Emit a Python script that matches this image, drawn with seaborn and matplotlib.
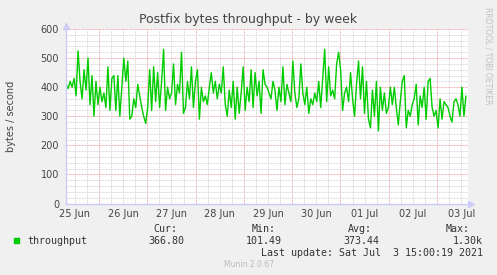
import numpy as np
import pandas as pd
import matplotlib
matplotlib.use("Agg")
import matplotlib.pyplot as plt
import matplotlib.dates as mdates
from matplotlib.ticker import MultipleLocator, FuncFormatter
from matplotlib.patches import Rectangle
import seaborn as sns

# ---------------- data ----------------
title = "Postfix bytes throughput - by week"
y_label = "bytes / second"
series_name = "throughput"
start_time = "2021-06-25 07:40"
end_time = "2021-07-03 14:20"
view_start = "2021-06-25 07:36"
view_end = "2021-07-03 15:22"

throughput = [
    410, 395, 420, 400, 430, 370, 525, 420, 360, 460, 390, 500, 340, 440, 300, 420,
    340, 400, 350, 380, 330, 470, 320, 430, 440, 320, 440, 300, 400, 500, 420, 490,
    290, 300, 360, 330, 410, 370, 330, 300, 275,
    330, 460, 320, 470, 350, 450, 330, 420, 530, 320, 400, 360, 380, 480, 340, 410,
    380, 520, 310, 330, 420, 360, 470, 330, 420, 460, 290, 400, 350, 370, 340, 400,
    450, 380, 420, 360, 410, 380, 470, 340, 300,
    390, 330, 420, 290, 400, 310, 380, 470, 320, 400, 350, 460, 330, 450, 370, 420,
    310, 460, 410, 400, 380, 360, 420, 390, 320, 400, 350, 470, 340, 410, 380, 350,
    490, 380, 330, 360, 480, 380, 340, 400, 310,
    360, 340, 380, 350, 420, 330, 430, 530, 350, 470, 370, 390, 360, 480, 520, 460,
    320, 380, 400, 350, 450, 360, 300, 410, 490, 360, 470, 310, 420, 290, 260, 390,
    300, 420, 250, 400, 320, 380, 310, 330, 400,
    340, 400, 330, 270, 350, 420, 440, 260, 320, 300, 340, 360, 410, 270, 370, 330,
    400, 290, 420, 430, 330, 300, 320, 260, 360, 290, 350, 340, 330, 300, 280, 350,
    360, 340, 300, 400, 300, 370,
]
y_ticks = [0, 100, 200, 300, 400, 500, 600]
day_labels = ["25 Jun", "26 Jun", "27 Jun", "28 Jun", "29 Jun",
              "30 Jun", "01 Jul", "02 Jul", "03 Jul"]
stat_names = ["Cur:", "Min:", "Avg:", "Max:"]
stat_values = ["366.80", "101.49", "373.44", "1.30k"]
last_update = "Last update: Sat Jul  3 15:00:19 2021"
footer = "Munin 2.0.67"
side_text = "RRDTOOL / TOBI OETIKER"

# ---------------- figure ----------------
sns.set_theme(style="white")
plt.rcParams['font.family'] = ['DejaVu Sans']

W, H = 497, 275
times = pd.date_range(start_time, end_time, periods=len(throughput))
df = pd.DataFrame({"time": times, series_name: throughput})

fig = plt.figure(figsize=(W / 100, H / 100), dpi=100, facecolor="#F0F0F0")
ax = fig.add_axes([66 / W, 71.5 / H, 402 / W, 174.5 / H])
ax.set_facecolor("white")

sns.lineplot(data=df, x="time", y=series_name, ax=ax, color="#00CC00",
             linewidth=1.0, legend=False)

ax.set_xlim(pd.Timestamp(view_start), pd.Timestamp(view_end))
ax.set_ylim(y_ticks[0], y_ticks[-1])

# x ticks: red grid at midnight, grey every 6 h, labels at noon
label_days = pd.date_range("2021-06-25", periods=len(day_labels), freq="D")
label_map = {d.strftime("%Y-%m-%d"): lab for d, lab in zip(label_days, day_labels)}

def xfmt(x, pos):
    d = mdates.num2date(x)
    if d.hour == 12:
        return label_map.get(d.strftime("%Y-%m-%d"), "")
    return ""

ax.xaxis.set_major_locator(mdates.DayLocator())
ax.xaxis.set_major_formatter(FuncFormatter(lambda x, p: ""))
ax.xaxis.set_minor_locator(mdates.HourLocator(byhour=[6, 12, 18]))
ax.xaxis.set_minor_formatter(FuncFormatter(xfmt))

ax.set_yticks(y_ticks)
ax.yaxis.set_minor_locator(MultipleLocator(20))

ax.tick_params(axis="x", which="both", length=0, labelsize=7, colors="#444444", pad=4)
ax.tick_params(axis="y", which="both", length=0, labelsize=7, colors="#444444", pad=5)
ax.tick_params(axis="y", which="minor", labelleft=False)

ax.set_axisbelow(True)
ax.grid(which="minor", color="#DCDCDC", linestyle=(0, (2, 1)), linewidth=0.72)
ax.grid(which="major", color="#F2B4B4", linestyle=(0, (2, 1)), linewidth=0.72)

for s in ["top", "right"]:
    ax.spines[s].set_visible(False)
for s in ["left", "bottom"]:
    ax.spines[s].set_color("#CCCCF6")
    ax.spines[s].set_linewidth(1.0)
ax.plot([1.0 + 3 / 402], [0], marker=">", ms=4, color="#CCCCF6",
        transform=ax.transAxes, clip_on=False)
ax.plot([0], [1.0 + 3 / 174.5], marker="^", ms=4, color="#CCCCF6",
        transform=ax.transAxes, clip_on=False)

ax.set_xlabel("")
ax.set_ylabel(y_label, fontsize=7, color="#444444")
ax.yaxis.set_label_coords((16 - 66) / 402, (203.5 - 116) / 174.5)

# title
fig.text(248 / W, 1 - 19 / H, title, ha="center", va="center",
         fontsize=9, color="#444444")
# side text
fig.text(488 / W, 1 - 56 / H, side_text, ha="center", va="center",
         rotation=270, fontsize=5.5, color="#C0C0C0")

# legend block
mono = "DejaVu Sans Mono"
fig.patches.append(Rectangle((14 / W, 1 - 242.5 / H), 5 / W, 5 / H,
                             transform=fig.transFigure, color="#00CC00"))
fig.text(27 / W, 1 - 244 / H, series_name, ha="left", va="baseline",
         family=mono, fontsize=7.2, color="#333333")
name_right = [177, 276, 372, 470]
val_right = [184, 282, 379, 483]
for nm, vl, nr, vr in zip(stat_names, stat_values, name_right, val_right):
    fig.text(nr / W, 1 - 231.5 / H, nm, ha="right", va="baseline",
             family=mono, fontsize=7.2, color="#333333")
    fig.text(vr / W, 1 - 244 / H, vl, ha="right", va="baseline",
             family=mono, fontsize=7.2, color="#333333")
fig.text(483 / W, 1 - 255.5 / H, last_update, ha="right", va="baseline",
         family=mono, fontsize=7.2, color="#333333")
fig.text(248.5 / W, 1 - 267 / H, footer, ha="center", va="baseline",
         fontsize=5.5, color="#BBBBBB")

fig.savefig("out.png", dpi=100, facecolor=fig.get_facecolor())
